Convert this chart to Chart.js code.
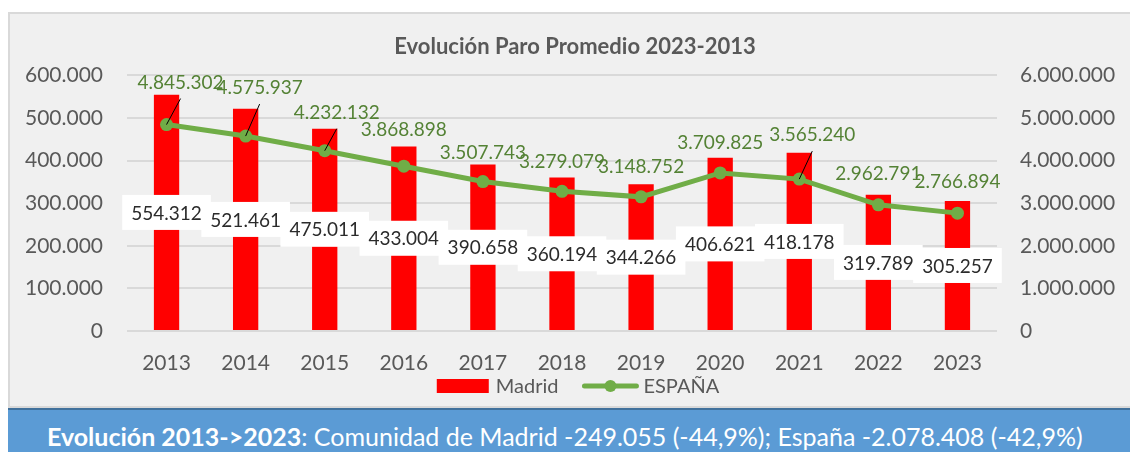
<!DOCTYPE html>
<html lang="es">
<head>
<meta charset="utf-8">
<title>Evolución Paro Promedio 2023-2013</title>
<script src="https://cdn.jsdelivr.net/npm/chart.js@4.4.1/dist/chart.umd.min.js"></script>
<style>
  html, body { margin:0; padding:0; background:#ffffff; width:1130px; height:452px; overflow:hidden; font-family:Lato, "Open Sans", sans-serif; }
  #box { position:absolute; left:8px; top:12px; width:1130px; height:392px; border:2px solid #d9d9d9; background:#f0f0f0; }
  #box canvas { display:block; }
  #banner { position:absolute; left:8px; top:408px; width:1140px; height:44px; background:#5b9bd5; border-top:2px solid #41719c;
            color:#ffffff; font-size:25px; line-height:30px; padding-top:11px; padding-left:39px; box-sizing:border-box; white-space:nowrap; overflow:hidden; }
  #banner b { font-weight:700; }
</style>
</head>
<body>
<div id="box"><canvas id="c" width="1130" height="392"></canvas></div>
<div id="banner"><b>Evolución 2013-&gt;2023</b>: Comunidad de Madrid -249.055 (-44,9%); España -2.078.408 (-42,9%)</div>
<script>
// ---- data ----
const categories = ['2013','2014','2015','2016','2017','2018','2019','2020','2021','2022','2023'];
const madridValues = [554312, 521461, 475011, 433004, 390658, 360194, 344266, 406621, 418178, 319789, 305257];
const espanaValues = [4845302, 4575937, 4232132, 3868898, 3507743, 3279079, 3148752, 3709825, 3565240, 2962791, 2766894];
const leftTicks = [0, 100000, 200000, 300000, 400000, 500000, 600000];
const rightTicks = [0, 1000000, 2000000, 3000000, 4000000, 5000000, 6000000];
const seriesNames = ['Madrid', 'ESPAÑA'];
const chartTitle = 'Evolución Paro Promedio 2023-2013';

// ---- label placement (relative offsets of the ESPAÑA value labels: dx, dy, leader line) ----
const espanaLabelShift = [[14,-42,1],[14,-48,1],[12,-38,1],[0,-36,0],[0,-29,0],[0,-29,0],[0,-30,0],[0,-30,0],[13,-44,1],[0,-31,0],[0,-31,0]];

const RED = '#ff0000', GREEN = '#70ad47', GREEN_TXT = '#548235', AXIS_TXT = '#595959';
const fmt = v => String(Math.round(v)).replace(/\B(?=(\d{3})+(?!\d))/g, '.');

Chart.defaults.font.family = 'Lato, "Open Sans", sans-serif';

const valueLabels = {
  id: 'valueLabels',
  afterDatasetsDraw(chart) {
    const ctx = chart.ctx;
    ctx.save();
    ctx.font = '19px Lato, "Open Sans", sans-serif';
    ctx.textAlign = 'center';
    ctx.textBaseline = 'middle';
    // Madrid labels: white boxes at bar middle
    const bars = chart.getDatasetMeta(0).data;
    bars.forEach((el, i) => {
      const txt = fmt(chart.data.datasets[0].data[i]);
      const cy = (el.y + el.base) / 2;
      const w = ctx.measureText(txt).width + 18, h = 35;
      ctx.fillStyle = '#ffffff';
      ctx.fillRect(el.x - w / 2, cy - h / 2, w, h);
      ctx.fillStyle = '#2b2b2b';
      ctx.fillText(txt, el.x, cy + 1);
    });
    // ESPAÑA labels
    const pts = chart.getDatasetMeta(1).data;
    pts.forEach((el, i) => {
      const [dx, dy, lead] = espanaLabelShift[i];
      const lx = el.x + dx, ly = el.y + dy;
      if (lead) {
        ctx.strokeStyle = '#000000';
        ctx.lineWidth = 1;
        ctx.beginPath();
        ctx.moveTo(el.x, el.y);
        ctx.lineTo(lx, ly + 16);
        ctx.stroke();
      }
      ctx.fillStyle = GREEN_TXT;
      ctx.fillText(fmt(chart.data.datasets[1].data[i]), lx, ly);
    });
    ctx.restore();
  }
};

const customLegend = {
  id: 'customLegend',
  afterDraw(chart) {
    const ctx = chart.ctx;
    ctx.save();
    ctx.font = '20px Lato, "Open Sans", sans-serif';
    ctx.textBaseline = 'middle';
    ctx.textAlign = 'left';
    const ds = chart.data.datasets;
    const t0 = ctx.measureText(ds[0].label).width;
    const t1 = ctx.measureText(ds[1].label).width;
    const total = 52 + 7 + t0 + 24 + 56 + 5 + t1;
    const cy = 372;
    let x = 568 - total / 2;
    ctx.fillStyle = ds[0].backgroundColor;
    ctx.fillRect(x, cy - 7, 52, 14);
    x += 59;
    ctx.fillStyle = AXIS_TXT;
    ctx.fillText(ds[0].label, x, cy + 1);
    x += t0 + 24;
    ctx.strokeStyle = ds[1].borderColor;
    ctx.lineWidth = 5;
    ctx.lineCap = 'round';
    ctx.beginPath(); ctx.moveTo(x + 2, cy); ctx.lineTo(x + 54, cy); ctx.stroke();
    ctx.fillStyle = ds[1].borderColor;
    ctx.beginPath(); ctx.arc(x + 28, cy, 6, 0, Math.PI * 2); ctx.fill();
    x += 61;
    ctx.fillStyle = AXIS_TXT;
    ctx.fillText(ds[1].label, x, cy + 1);
    ctx.restore();
  }
};

new Chart(document.getElementById('c'), {
  data: {
    labels: categories,
    datasets: [
      { type: 'bar', label: seriesNames[0], data: madridValues, backgroundColor: RED, borderWidth: 0,
        yAxisID: 'y', order: 1, barPercentage: 0.32, categoryPercentage: 1.0 },
      { type: 'line', label: seriesNames[1], data: espanaValues, borderColor: GREEN, backgroundColor: GREEN,
        borderWidth: 5, pointRadius: 6.5, pointBackgroundColor: GREEN, pointBorderWidth: 0,
        yAxisID: 'y1', order: 0, tension: 0 }
    ]
  },
  options: {
    responsive: false,
    animation: false,
    devicePixelRatio: 1,
    layout: { padding: { left: 0, right: 0, top: 0, bottom: 11 } },
    plugins: {
      legend: { display: false },
      tooltip: { enabled: false },
      title: { display: true, text: chartTitle, color: AXIS_TXT,
               font: { size: 22, weight: 'bold', lineHeight: 1.2 }, padding: { top: 20, bottom: 15 } }
    },
    scales: {
      x: {
        offset: true,
        grid: { display: false, drawTicks: false },
        border: { display: false },
        ticks: { color: AXIS_TXT, font: { size: 21, lineHeight: 1.2 }, padding: 19.4 }
      },
      y: {
        position: 'left',
        min: leftTicks[0], max: leftTicks[leftTicks.length - 1],
        afterBuildTicks: s => { s.ticks = leftTicks.map(v => ({ value: v })); },
        afterFit: s => { s.width = 117; },
        grid: { color: '#d9d9d9', lineWidth: 2, drawTicks: false },
        border: { display: false },
        ticks: { color: AXIS_TXT, font: { size: 21 }, padding: 24, callback: v => fmt(v) }
      },
      y1: {
        position: 'right',
        min: rightTicks[0], max: rightTicks[rightTicks.length - 1],
        afterBuildTicks: s => { s.ticks = rightTicks.map(v => ({ value: v })); },
        afterFit: s => { s.width = 143; },
        grid: { display: false, drawTicks: false },
        border: { display: false },
        ticks: { color: AXIS_TXT, font: { size: 21 }, padding: 23, callback: v => fmt(v) }
      }
    }
  },
  plugins: [valueLabels, customLegend]
});
</script>
</body>
</html>
